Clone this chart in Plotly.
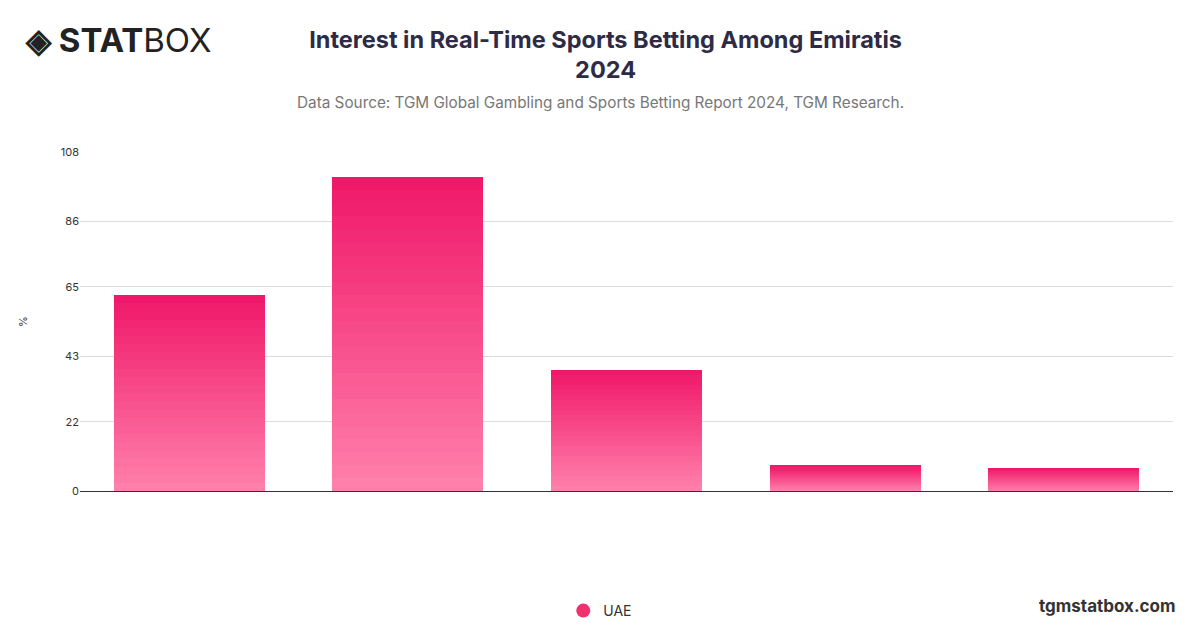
import plotly.graph_objects as go

categories = ["A", "B", "C", "D", "E"]
values = [62.4, 100.0, 38.5, 8.0, 7.3]
tick_vals = [0, 22, 43, 65, 86, 108]
series_name = "UAE"

N = 24
top = (240, 24, 106)
bot = (255, 128, 170)
fig = go.Figure()
for i in range(N):
    t = i / (N - 1)
    c = tuple(round(bot[k] + (top[k] - bot[k]) * t) for k in range(3))
    fig.add_trace(go.Bar(x=categories, y=[v / N for v in values],
                         marker=dict(color="rgb(%d,%d,%d)" % c, line=dict(width=0)),
                         showlegend=False, hoverinfo="skip"))
fig.add_trace(go.Scatter(x=[None], y=[None], mode="markers", name=series_name,
                         marker=dict(size=14, color="#f0306f")))

fig.update_layout(
    width=1200, height=628, barmode="stack", bargap=0.31,
    paper_bgcolor="white", plot_bgcolor="white",
    margin=dict(l=72, r=35, t=144, b=145, autoexpand=False),
    font=dict(family="Inter, Roboto, sans-serif", color="#333"),
    title=dict(text="<b>Interest in Real-Time Sports Betting Among Emiratis<br>2024</b>",
               x=0.498, xanchor="center", y=0.937, yanchor="top",
               font=dict(size=23.5, color="#2d2b45")),
    xaxis=dict(showticklabels=False, showgrid=False, showline=True, linecolor="#333",
               linewidth=1, ticks=""),
    yaxis=dict(range=[0, 108], tickvals=tick_vals, gridcolor="#dcdcdc",
               tickfont=dict(size=11, color="#333"), zeroline=False,
               title=dict(text="%", font=dict(size=11), standoff=30)),
    legend=dict(orientation="h", x=0.476, xanchor="center", y=-0.354, yanchor="middle",
                font=dict(size=14, color="#333")),
    annotations=[
        dict(text="Data Source: TGM Global Gambling and Sports Betting Report 2024, TGM Research.",
             x=0.476, xref="paper", xanchor="center", y=1.147, yref="paper", yanchor="middle",
             showarrow=False, font=dict(size=15.3, color="#777")),
        dict(text="<b>tgmstatbox.com</b>", x=1.005, xref="paper", xanchor="right", y=-0.339,
             yref="paper", yanchor="middle",
             showarrow=False, font=dict(size=17, color="#333")),
        dict(text="<b>◈ STAT</b>BOX", x=-0.052, xref="paper", y=1.33, yref="paper",
             showarrow=False, xanchor="left", yanchor="middle",
             font=dict(size=33, color="#222", family="Inter, sans-serif")),
    ],
)
fig.write_html("out.html")
